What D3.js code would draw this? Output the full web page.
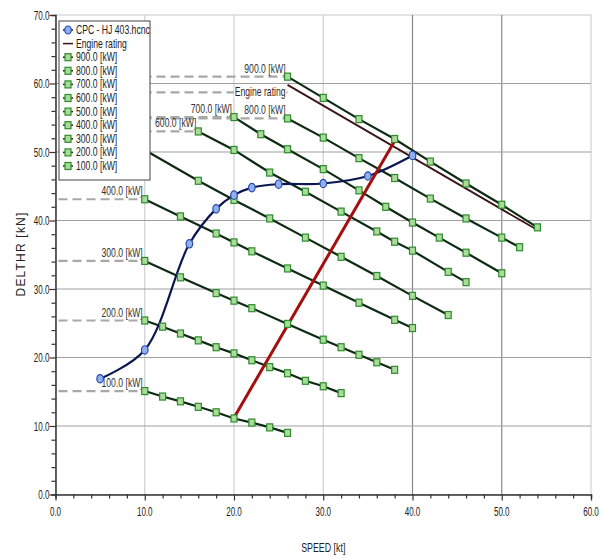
<!DOCTYPE html>
<html>
<head>
<meta charset="utf-8">
<script src="https://cdn.jsdelivr.net/npm/d3@7"></script>
<style>
  html, body { margin: 0; padding: 0; background: #fff; }
  svg { display: block; }
</style>
</head>
<body>
<svg id="chart" width="611" height="558"></svg>
<script>
// Axis ticks
const speedTicks = [0, 10, 20, 30, 40, 50, 60];
const thrustTicks = [0, 10, 20, 30, 40, 50, 60, 70];

// Propeller curve (CPC - HJ 403.hcnc)
const cpcSpeed  = [5, 10, 15, 18, 20, 22, 25, 30, 35, 40];
const cpcThrust = [16.9, 21.1, 36.6, 41.7, 43.7, 44.8, 45.3, 45.4, 46.5, 49.5];

// Engine rating
const engineSpeed  = [26, 54];
const engineThrust = [59.8, 38.6];
const engineLabelThrust = 58.7;

// Operating line
const operSpeed  = [20.0, 37.9];
const operThrust = [11.2, 51.4];

// Constant-power lines
const powerNames = ["900.0 [kW]", "800.0 [kW]", "700.0 [kW]", "600.0 [kW]", "500.0 [kW]",
                    "400.0 [kW]", "300.0 [kW]", "200.0 [kW]", "100.0 [kW]"];
const kw900Speed  = [26, 30, 34, 38, 42, 46, 50, 54];
const kw900Thrust = [61.0, 57.9, 54.8, 51.9, 48.6, 45.4, 42.3, 39.0];
const kw800Speed  = [26, 30, 34, 38, 42, 46, 50, 52];
const kw800Thrust = [54.9, 52.1, 49.1, 46.2, 43.2, 40.3, 37.5, 36.1];
const kw700Speed  = [20, 23, 26, 30, 34, 37, 40, 43, 46, 50];
const kw700Thrust = [55.1, 52.6, 50.4, 47.5, 44.4, 42.0, 39.7, 37.5, 35.3, 32.3];
const kw600Speed  = [16, 20, 24, 28, 32, 36, 38, 40, 44, 46];
const kw600Thrust = [53.0, 50.3, 47.0, 44.2, 41.3, 38.4, 36.9, 35.6, 32.5, 31.0];
const kw500Speed  = [10, 16, 20, 24, 28, 32, 36, 40, 44];
const kw500Thrust = [50.3, 45.8, 43.0, 40.3, 37.5, 34.7, 31.9, 29.0, 26.2];
const kw400Speed  = [10, 14, 18, 20, 22, 26, 30, 34, 38, 40];
const kw400Thrust = [43.1, 40.6, 38.1, 36.8, 35.5, 33.0, 30.5, 28.0, 25.5, 24.3];
const kw300Speed  = [10, 14, 18, 20, 22, 26, 30, 32, 34, 36, 38];
const kw300Thrust = [34.1, 31.7, 29.4, 28.3, 27.2, 24.9, 22.6, 21.5, 20.4, 19.3, 18.2];
const kw200Speed  = [10, 12, 14, 16, 18, 20, 22, 24, 26, 28, 30, 32];
const kw200Thrust = [25.4, 24.5, 23.5, 22.5, 21.5, 20.6, 19.6, 18.6, 17.7, 16.6, 15.8, 14.8];
const kw100Speed  = [10, 12, 14, 16, 18, 20, 22, 24, 26];
const kw100Thrust = [15.1, 14.3, 13.6, 12.8, 12.0, 11.1, 10.5, 9.8, 9.0];

const powerSpeeds  = [kw900Speed, kw800Speed, kw700Speed, kw600Speed, kw500Speed,
                      kw400Speed, kw300Speed, kw200Speed, kw100Speed];
const powerThrusts = [kw900Thrust, kw800Thrust, kw700Thrust, kw600Thrust, kw500Thrust,
                      kw400Thrust, kw300Thrust, kw200Thrust, kw100Thrust];

const svg = d3.select("#chart");
const plotL = 55.5, plotR = 591, plotT = 15, plotB = 494.5;

const x = d3.scaleLinear().domain([0, 60]).range([plotL, plotR]);
const y = d3.scaleLinear().domain([0, 70]).range([plotB, plotT]);

const FONT = "'Liberation Sans', Arial, sans-serif";

// Legend box geometry (the legend sits over the upper-left of the plot)
const lgX = 59, lgY = 21, lgW = 91, lgH = 159, row = 13.6;

// Condensed text helper
function label(g, px, py, str, opt) {
  opt = opt || {};
  return g.append("text")
    .attr("transform", `translate(${px},${py}) scale(${opt.sx || 0.65},1)`)
    .attr("font-family", FONT)
    .attr("font-size", opt.size || 12)
    .attr("fill", opt.fill || "#222")
    .attr("text-anchor", opt.anchor || "start")
    .attr("dominant-baseline", "central")
    .text(str);
}

// Plot frame
svg.append("rect")
  .attr("x", plotL).attr("y", plotT)
  .attr("width", plotR - plotL).attr("height", plotB - plotT)
  .attr("fill", "#fff").attr("stroke", "#c8c8c8").attr("stroke-width", 1);

// Grid
const grid = svg.append("g");
grid.selectAll("line.gx").data(speedTicks.filter(d => d > 0 && d < 60)).join("line")
  .attr("class", "gx")
  .attr("x1", d => x(d)).attr("x2", d => x(d))
  .attr("y1", plotT).attr("y2", plotB)
  .attr("stroke", d => d >= 40 ? "#8a8a8a" : "#cfcfcf").attr("stroke-width", 1.2);
grid.selectAll("line.gy").data(thrustTicks.filter(d => d > 0 && d < 70)).join("line")
  .attr("class", "gy")
  .attr("x1", plotL).attr("x2", plotR)
  .attr("y1", d => y(d)).attr("y2", d => y(d))
  .attr("stroke", "#a0a0a0").attr("stroke-width", 1.2);

// Axes
const xAxis = d3.axisBottom(x).tickValues(d3.range(0, 61, 2)).tickFormat("").tickSizeOuter(0)
  .tickSize(4);
const gx = svg.append("g").attr("transform", `translate(0,${plotB})`).call(xAxis);
gx.select(".domain").attr("stroke", "#333").attr("stroke-width", 1.5);
gx.selectAll(".tick line").attr("stroke", "#333").attr("stroke-width", 1.2)
  .attr("y2", d => d % 10 === 0 ? 6 : 4);
speedTicks.forEach(d => label(svg, x(d), plotB + 17, d.toFixed(1), { anchor: "middle", size: 13, sx: 0.62 }));

const yAxis = d3.axisLeft(y).tickValues(d3.range(0, 71, 2)).tickFormat("").tickSizeOuter(0)
  .tickSize(4);
const gy = svg.append("g").attr("transform", `translate(${plotL},0)`).call(yAxis);
gy.select(".domain").attr("stroke", "#333").attr("stroke-width", 1.5);
gy.selectAll(".tick line").attr("stroke", "#333").attr("stroke-width", 1.2)
  .attr("x2", d => d % 10 === 0 ? -6 : -4);
thrustTicks.forEach(d => label(svg, plotL - 6, y(d), d.toFixed(1), { anchor: "end", size: 13, sx: 0.62 }));

// Axis titles
svg.append("text")
  .attr("transform", `translate(${x(30)},547) scale(0.68,1)`)
  .attr("font-family", FONT).attr("font-size", 13).attr("fill", "#222")
  .attr("text-anchor", "middle").attr("dominant-baseline", "central")
  .text("SPEED [kt]");
svg.append("text")
  .attr("transform", `translate(21,254) rotate(-90)`)
  .attr("font-family", FONT).attr("font-size", 12).attr("fill", "#222")
  .attr("letter-spacing", 1.2)
  .attr("text-anchor", "middle").attr("dominant-baseline", "central")
  .text("DELTHR [kN]");

const plot = svg.append("g");
const lineGen = d3.line().x(d => x(d[0])).y(d => y(d[1]));
const pts = (sx, sy) => sx.map((s, i) => [s, sy[i]]);

// Dashed reference lines and labels for each power curve
powerSpeeds.forEach((sp, i) => {
  const y0 = powerThrusts[i][0];
  plot.append("line")
    .attr("x1", plotL + 3).attr("x2", x(sp[0]))
    .attr("y1", y(y0)).attr("y2", y(y0))
    .attr("stroke", "#a8a8a8").attr("stroke-width", 2.2)
    .attr("stroke-dasharray", "9,5");
  // a label that would sit entirely under the legend box is not drawn
  const lx = x(sp[0]) - 2, ly = y(y0) - 8;
  const underLegend = lx <= lgX + lgW && ly > lgY && ly < lgY + lgH;
  if (!underLegend) {
    label(plot, lx, ly, powerNames[i], { anchor: "end", size: 12, sx: 0.72, fill: "#333" });
  }
});

// Engine rating reference
plot.append("line")
  .attr("x1", plotL + 3).attr("x2", x(engineSpeed[0]))
  .attr("y1", y(engineLabelThrust)).attr("y2", y(engineLabelThrust))
  .attr("stroke", "#a8a8a8").attr("stroke-width", 2.2)
  .attr("stroke-dasharray", "9,5");
{
  const t = label(plot, x(engineSpeed[0]) - 2, y(engineLabelThrust), "Engine rating",
    { anchor: "end", size: 12, sx: 0.72, fill: "#3a1a1a" });
  const bb = t.node().getBBox();
  plot.insert("rect", () => t.node())
    .attr("transform", t.attr("transform"))
    .attr("x", bb.x - 1).attr("y", bb.y + 1).attr("width", bb.width + 2).attr("height", bb.height - 2)
    .attr("fill", "#fff");
}

// Power lines
powerSpeeds.forEach((sp, i) => {
  plot.append("path").datum(pts(sp, powerThrusts[i])).attr("d", lineGen)
    .attr("fill", "none").attr("stroke", "#0f2a12").attr("stroke-width", 2.2);
});

// Engine rating line
plot.append("path").datum(pts(engineSpeed, engineThrust)).attr("d", lineGen)
  .attr("fill", "none").attr("stroke", "#3b1414").attr("stroke-width", 1.8);

// Propeller curve
plot.append("path").datum(pts(cpcSpeed, cpcThrust))
  .attr("d", d3.line().x(d => x(d[0])).y(d => y(d[1])).curve(d3.curveCatmullRom.alpha(0.5)))
  .attr("fill", "none").attr("stroke", "#0c1650").attr("stroke-width", 2.2);

// Operating line
plot.append("path").datum(pts(operSpeed, operThrust)).attr("d", lineGen)
  .attr("fill", "none").attr("stroke", "#a30f0f").attr("stroke-width", 3);

// Markers on power lines
powerSpeeds.forEach((sp, i) => {
  plot.append("g").selectAll("rect").data(pts(sp, powerThrusts[i])).join("rect")
    .attr("x", d => x(d[0]) - 3).attr("y", d => y(d[1]) - 3.5)
    .attr("width", 6).attr("height", 7)
    .attr("fill", "#a8dc98").attr("stroke", "#2e8a2e").attr("stroke-width", 1.2);
});

// Markers on propeller curve
plot.append("g").selectAll("ellipse").data(pts(cpcSpeed, cpcThrust)).join("ellipse")
  .attr("cx", d => x(d[0])).attr("cy", d => y(d[1]))
  .attr("rx", 3.3).attr("ry", 4.2)
  .attr("fill", "#8fb0ec").attr("stroke", "#2a48b0").attr("stroke-width", 1.2);

// Legend
const lg = svg.append("g");
lg.append("rect").attr("x", lgX).attr("y", lgY).attr("width", lgW).attr("height", lgH)
  .attr("fill", "#fff").attr("stroke", "#444").attr("stroke-width", 1);
const rowY = i => lgY + 9 + i * row;
// CPC entry
lg.append("line").attr("x1", lgX + 4).attr("x2", lgX + 14).attr("y1", rowY(0)).attr("y2", rowY(0))
  .attr("stroke", "#0c1650").attr("stroke-width", 1.5);
lg.append("ellipse").attr("cx", lgX + 9).attr("cy", rowY(0)).attr("rx", 3.3).attr("ry", 4)
  .attr("fill", "#8fb0ec").attr("stroke", "#2a48b0").attr("stroke-width", 1.2);
label(lg, lgX + 17, rowY(0), "CPC - HJ 403.hcnc", { size: 12, sx: 0.72, fill: "#222" });
// Engine rating entry
lg.append("line").attr("x1", lgX + 4).attr("x2", lgX + 14).attr("y1", rowY(1)).attr("y2", rowY(1))
  .attr("stroke", "#3b1414").attr("stroke-width", 1.5);
label(lg, lgX + 17, rowY(1), "Engine rating", { size: 12, sx: 0.72, fill: "#222" });
// Power entries
powerNames.forEach((n, i) => {
  const ry = rowY(i + 2);
  lg.append("line").attr("x1", lgX + 4).attr("x2", lgX + 14).attr("y1", ry).attr("y2", ry)
    .attr("stroke", "#0f2a12").attr("stroke-width", 1.5);
  lg.append("rect").attr("x", lgX + 6).attr("y", ry - 3.5).attr("width", 6).attr("height", 7)
    .attr("fill", "#a8dc98").attr("stroke", "#2e8a2e").attr("stroke-width", 1.2);
  label(lg, lgX + 17, ry, n, { size: 12, sx: 0.72, fill: "#222" });
});
</script>
</body>
</html>
